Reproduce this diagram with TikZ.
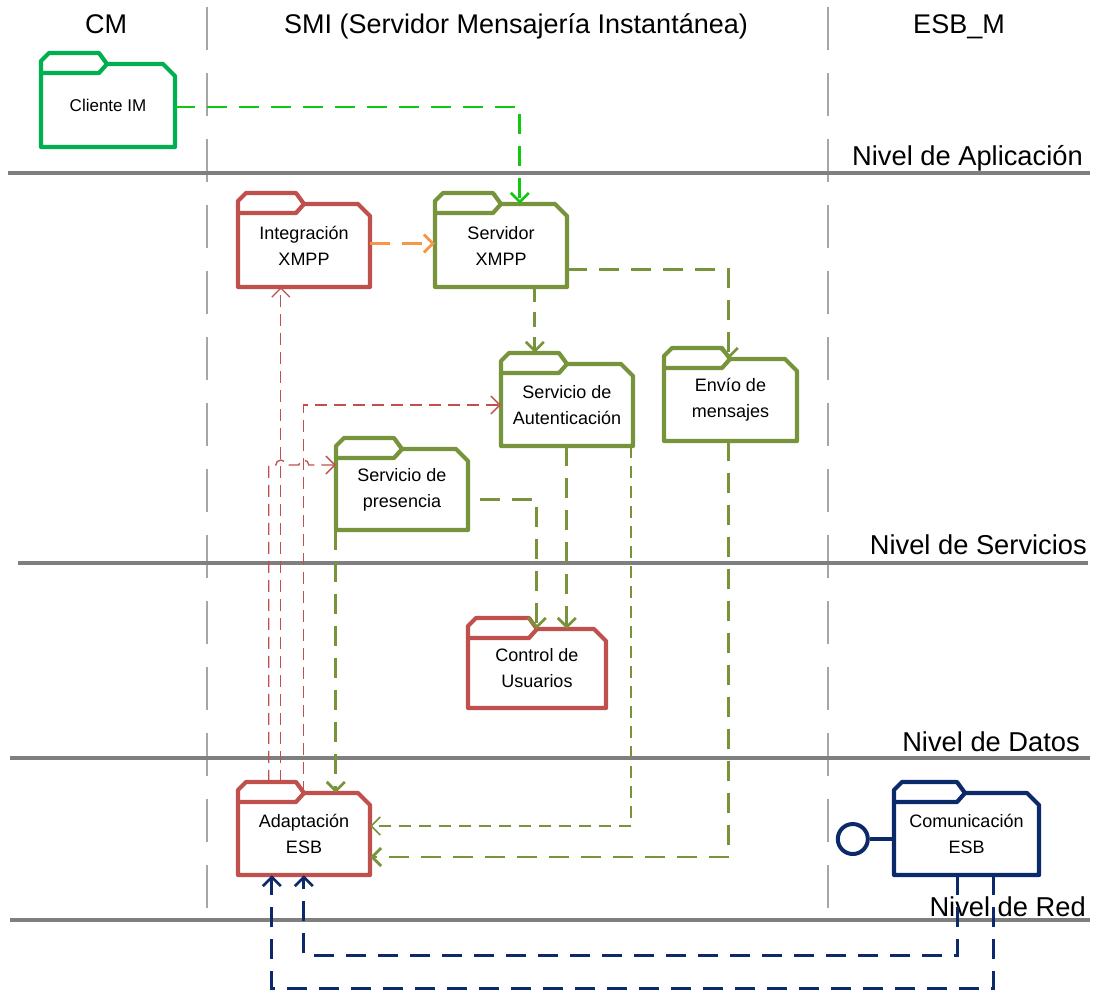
\documentclass[tikz,border=0pt]{standalone}
\usepackage{fontspec}
\setmainfont{Liberation Sans}
\usetikzlibrary{calc,arrows.meta}
\definecolor{cgreen}{HTML}{00B050}
\definecolor{cbright}{HTML}{10C810}
\definecolor{cred}{HTML}{C0504D}
\definecolor{colive}{HTML}{77933C}
\definecolor{corange}{HTML}{F79646}
\definecolor{cnavy}{HTML}{0C2A6A}
\definecolor{cgreyline}{HTML}{7F7F7F}
\definecolor{cdivider}{HTML}{A6A6A6}
\tikzset{
  pkgline/.style={line width=4.2pt, line join=round},
  pkgtext/.style={inner sep=0pt, align=center, font=\fontsize{18}{26}\selectfont},
  header/.style={inner sep=0pt, anchor=base, font=\fontsize{27}{30}\selectfont},
  level/.style={inner sep=0pt, anchor=base east, font=\fontsize{27.3}{30}\selectfont},
  levelline/.style={draw=cgreyline, line width=4pt},
  divider/.style={draw=cdivider, line width=2.5pt, dash pattern=on 43pt off 23pt},
  barb/.style={-{Straight Barb[length=9pt,width=18pt]}},
  thickconn/.style={line width=2.7pt, dash pattern=on 20pt off 12pt, barb},
  thinconn/.style={line width=1.5pt, dash pattern=on 12pt off 8pt, barb},
  redconn/.style={line width=1.3pt, dash pattern=on 12pt off 7pt, draw=cred, barb},
}
% #1 name, #2 L, #3 T(body top), #4 R, #5 B, #6 colour, #7 text, #8 tab width
\newcommand\pkgfolder[8]{%
  \node[pkgtext, minimum width={#4-#2}, minimum height={#5-#3}] (#1) at ({(#2+#4)/2},{(#3+#5)/2}) {#7};
  \draw[pkgline, draw=#6] (#2,#5) -- (#2,{#3-3}) -- ({#2+8},{#3-11}) -- ({#2+#8-8},{#3-11}) -- ({#2+#8},#3) -- ({#4-12},#3) -- (#4,{#3+12}) -- (#4,#5) -- cycle;
  \draw[pkgline, draw=#6] (#2,{#3+9}) -- ({#2+#8-8},{#3+9}) -- ({#2+#8},#3);
}
\begin{document}
\begin{tikzpicture}[x=1pt,y=-1pt]
\useasboundingbox[fill=white] (0,0) rectangle (1094,991);

% column dividers
\draw[divider] (207,7) -- (207,913);
\draw[divider] (828,7) -- (828,913);

% level lines
\draw[levelline] (8,173) -- (1090,173);
\draw[levelline] (18,563) -- (1088,563);
\draw[levelline] (10,758) -- (1090,758);
\draw[levelline] (10,920) -- (1090,920);

% headers
\node[header] (hcm) at (106,33) {CM};
\node[header] (hsmi) at (516,33) {SMI (Servidor Mensajería Instantánea)};
\node[header] (hesb) at (959,33) {ESB\_M};

% level labels
\node[level] (lapp) at (1083,165) {Nivel de Aplicación};
\node[level] (lser) at (1087,554) {Nivel de Servicios};
\node[level] (ldat) at (1080,751) {Nivel de Datos};
\node[level] (lred) at (1086,916) {Nivel de Red};

% packages
\pkgfolder{cli}{41}{64}{175}{147}{cgreen}{\fontsize{17}{24}\selectfont Cliente IM}{66}
\pkgfolder{intx}{238}{204}{370}{287}{cred}{Integración\\XMPP}{66}
\pkgfolder{srv}{435}{204}{567}{287}{colive}{Servidor\\XMPP}{66}
\pkgfolder{auth}{501}{364}{633}{446}{colive}{Servicio de\\Autenticación}{66}
\pkgfolder{env}{664}{359}{797}{441}{colive}{Envío de\\mensajes}{66}
\pkgfolder{pres}{336}{449}{468}{530}{colive}{Servicio de\\presencia}{66}
\pkgfolder{ctrl}{468}{629}{606}{708}{cred}{Control de\\Usuarios}{69}
\pkgfolder{adap}{238}{793}{370}{875}{cred}{Adaptación\\ESB}{66}
\pkgfolder{com}{894}{793}{1039}{875}{cnavy}{Comunicación\\ESB}{71}

% lollipop interface
\node[circle, draw=cnavy, line width=4pt, minimum size=30pt, inner sep=0pt] (lol) at ($(com.west)+(-41,5)$) {};
\draw[draw=cnavy, line width=4pt] (lol.east) -- (lol.east -| com.west);

% connectors
\draw[thickconn, draw=cbright] ($(cli.east)+(0,1.5)$) -| ($(srv.north west)+(85,0)$);
\draw[thickconn, draw=corange] ($(intx.east)+(0,-2)$) -- ($(srv.west)+(0,-2)$);
\draw[thickconn, draw=colive, dash pattern=on 15pt off 10pt] ($(srv.south west)+(100,0)$) -- ($(auth.north west)+(34,-11)$);
\draw[thickconn, draw=colive] ($(srv.south east)+(0,-18)$) -| ($(env.north west)+(65,0)$);
\draw[thickconn, draw=colive] ($(auth.south west)+(66,0)$) -- ($(ctrl.north west)+(99,0)$);
\draw[thickconn, draw=colive] ($(pres.east)+(12,10)$) -| ($(ctrl.north west)+(69,0)$);
\draw[thickconn, draw=colive] (pres.south west) -- ($(adap.north west)+(98,0)$);
\draw[thinconn, draw=colive] ($(auth.south east)+(-2,0)$) |- ($(adap.east)+(0,-8)$);
\draw[thickconn, draw=colive] ($(env.south west)+(65,0)$) |- ($(adap.east)+(0,23)$);

% red connectors from Adaptacion ESB
\draw[redconn] ($(adap.north west)+(43,-11)$) -- ($(intx.south west)+(43,0)$);
\draw[redconn] ($(adap.north west)+(66,0)$) |- (auth.west);
\draw[redconn] ($(adap.north west)+(31,-11)$) -- ($(pres.west)+(-67,-24.5)$) -- ++(7,0)
  arc[start angle=180, end angle=0, radius=5pt] -- ++(13,0)
  arc[start angle=180, end angle=0, radius=5pt] -- ($(pres.west)+(0,-24.5)$);

% navy connectors
\draw[thickconn, draw=cnavy] ($(com.south west)+(64,0)$) -- ++(0,80) -| ($(adap.south west)+(66,0)$);
\draw[thickconn, draw=cnavy] ($(com.south west)+(100,0)$) -- ++(0,113) -| ($(adap.south west)+(34,0)$);
\end{tikzpicture}
\end{document}
